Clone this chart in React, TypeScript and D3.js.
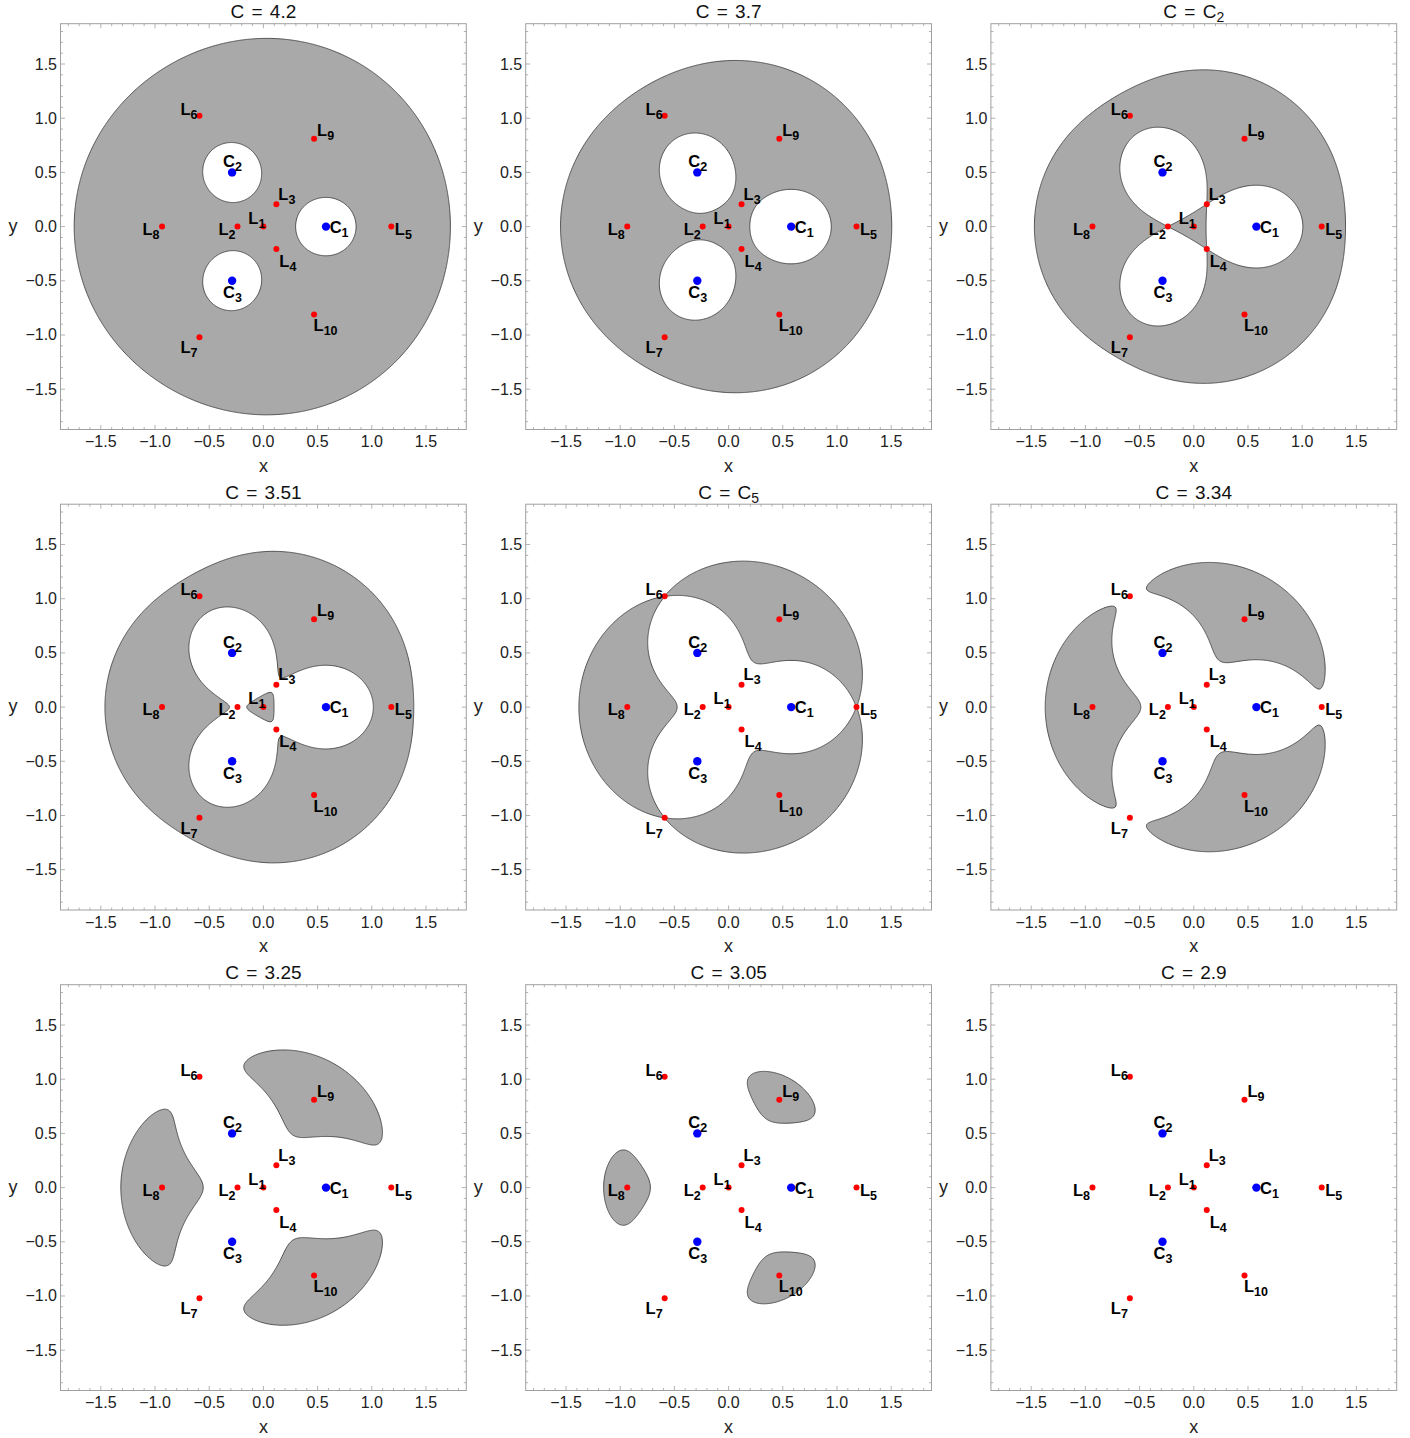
import React, { useMemo } from "react";
import * as d3 from "d3";

// Jacobi constant for each panel (C2 and C5 are the saddle values at L2 and L5)
const panelTitles = ["4.2", "3.7", "C_2", "3.51", "C_5", "3.34", "3.25", "3.05", "2.9"];
const jacobiValues = [4.2, 3.7, 3.5274, 3.51, 3.3582, 3.34, 3.25, 3.05, 2.9];

// three equal primaries on an equilateral triangle
const primaryNames = ["1", "2", "3"];
const primaryX = [0.57735, -0.288675, -0.288675];
const primaryY = [0, 0.5, -0.5];
const primaryMass = [1 / 3, 1 / 3, 1 / 3];

// equilibrium points
const lagrangeNames = ["1", "2", "3", "4", "5", "6", "7", "8", "9", "10"];
const lagrangeX = [0, -0.239, 0.1195, 0.1195, 1.18, -0.59, -0.59, -0.935, 0.4676, 0.4676];
const lagrangeY = [0, 0, 0.207, -0.207, 0, 1.0219, -1.0219, 0, 0.8099, -0.8099];

const majorTicks = [-1.5, -1, -0.5, 0, 0.5, 1, 1.5];
const minorTicks = d3.range(-18, 19).map((i) => i / 10);

// label placement (pixels relative to the point)
const labelPos: Record<string, { anchor: string; dx: number; dy: number }> = {
  L1: { anchor: "end", dx: 2, dy: -3 },
  L2: { anchor: "end", dx: -2, dy: 8 },
  L3: { anchor: "start", dx: 2, dy: -4.5 },
  L4: { anchor: "start", dx: 3, dy: 17.5 },
  L5: { anchor: "start", dx: 3.5, dy: 8 },
  L6: { anchor: "end", dx: -2, dy: -1 },
  L7: { anchor: "end", dx: -2, dy: 16 },
  L8: { anchor: "end", dx: -2.5, dy: 8 },
  L9: { anchor: "start", dx: 3, dy: -3 },
  L10: { anchor: "start", dx: -0.5, dy: 17 },
  C1: { anchor: "start", dx: 3.7, dy: 6.4 },
  C2: { anchor: "start", dx: -9, dy: -5 },
  C3: { anchor: "start", dx: -9, dy: 17.5 },
};

const W = 1410;
const H = 1438;
const SIZE = 405.8;
const LEFT0 = 60.5;
const TOP0 = 23.7;
const COL_STEP = 465.2;
const ROW_STEP = 480.5;
const LIM = 1.872;
const N = 400;
const FONT = "'Liberation Sans', Arial, Helvetica, sans-serif";

function twoOmega(x: number, y: number) {
  let s = x * x + y * y;
  for (let i = 0; i < primaryX.length; i++) {
    const r = Math.hypot(x - primaryX[i], y - primaryY[i]);
    s += (2 * primaryMass[i]) / Math.max(r, 1e-4);
  }
  return s;
}

const fmt = (v: number) => d3.format(".1f")(v).replace("-", "\u2212");

const Panel = ({ index }: { index: number }) => {
  const col = index % 3;
  const row = Math.floor(index / 3);
  const left = LEFT0 + col * COL_STEP;
  const top = TOP0 + row * ROW_STEP;

  const sx = d3.scaleLinear().domain([-LIM, LIM]).range([0, SIZE]);
  const sy = d3.scaleLinear().domain([-LIM, LIM]).range([SIZE, 0]);

  const pathD = useMemo(() => {
    const step = (2 * LIM) / N;
    const values = new Float64Array(N * N);
    for (let j = 0; j < N; j++) {
      const y = LIM - (j + 0.5) * step;
      for (let i = 0; i < N; i++) {
        const x = -LIM + (i + 0.5) * step;
        values[j * N + i] = Math.max(-twoOmega(x, y), -1000);
      }
    }
    const contour = d3.contours().size([N, N]).thresholds([-jacobiValues[index]])(Array.from(values))[0];
    const proj = d3.geoTransform({
      point(px: number, py: number) {
        // @ts-ignore
        this.stream.point(sx(-LIM + px * step), sy(LIM - py * step));
      },
    });
    return d3.geoPath(proj)(contour as any) || "";
  }, [index]);

  const title = panelTitles[index];
  const [tMain, tSub] = title.split("_");

  const tickLines: React.ReactNode[] = [];
  minorTicks.forEach((v, k) => {
    const major = majorTicks.some((m) => Math.abs(m - v) < 1e-9);
    const len = major ? 4.5 : 2.5;
    const px = sx(v);
    const py = sy(v);
    tickLines.push(
      <g key={k} stroke="#a0a0a0" strokeWidth={0.8}>
        <line x1={px} x2={px} y1={SIZE} y2={SIZE - len} />
        <line x1={px} x2={px} y1={0} y2={len} />
        <line x1={0} x2={len} y1={py} y2={py} />
        <line x1={SIZE} x2={SIZE - len} y1={py} y2={py} />
      </g>
    );
  });

  const label = (name: string, sub: string, x: number, y: number, key: string) => {
    const p = labelPos[name + sub];
    return (
      <text
        key={key}
        x={sx(x) + p.dx}
        y={sy(y) + p.dy}
        textAnchor={p.anchor as any}
        fontFamily={FONT}
        fontWeight="bold"
        fontSize={16.5}
        fill="#000"
      >
        {name}
        <tspan fontSize={12.5} dy={4}>
          {sub}
        </tspan>
      </text>
    );
  };

  return (
    <g transform={`translate(${left},${top})`}>
      <path d={pathD} fill="#a9a9a9" fillRule="evenodd" stroke="#444" strokeWidth={0.9} />
      <rect x={0} y={0} width={SIZE} height={SIZE} fill="none" stroke="#a0a0a0" strokeWidth={1} />
      {tickLines}
      {majorTicks.map((v) => (
        <text key={"x" + v} x={sx(v)} y={SIZE + 17.6} textAnchor="middle" fontFamily={FONT} fontSize={16} fill="#222">
          {fmt(v)}
        </text>
      ))}
      {majorTicks.map((v) => (
        <text key={"y" + v} x={-3.5} y={sy(v) + 5.5} textAnchor="end" fontFamily={FONT} fontSize={16} fill="#222">
          {fmt(v)}
        </text>
      ))}
      <text x={SIZE / 2} y={SIZE + 42.5} textAnchor="middle" fontFamily={FONT} fontSize={18} fill="#222">
        x
      </text>
      <text x={-47.5} y={SIZE / 2 + 5} textAnchor="middle" fontFamily={FONT} fontSize={18} fill="#222">
        y
      </text>
      <text
        x={SIZE / 2}
        y={-5.5}
        textAnchor="middle"
        fontFamily={FONT}
        fontSize={19}
        wordSpacing={2}
        fill="#111"
        style={{ whiteSpace: "pre" }}
      >
        {"C = " + tMain}
        {tSub && (
          <tspan fontSize={14} dy={4}>
            {tSub}
          </tspan>
        )}
      </text>
      {lagrangeX.map((x, i) => (
        <circle key={"lp" + i} cx={sx(x)} cy={sy(lagrangeY[i])} r={3} fill="#f00" />
      ))}
      {primaryX.map((x, i) => (
        <circle key={"pp" + i} cx={sx(x)} cy={sy(primaryY[i])} r={4.2} fill="#00f" />
      ))}
      {lagrangeX.map((x, i) => label("L", lagrangeNames[i], x, lagrangeY[i], "ll" + i))}
      {primaryX.map((x, i) => label("C", primaryNames[i], x, primaryY[i], "pl" + i))}
    </g>
  );
};

export default function App() {
  return (
    <svg width={W} height={H} style={{ position: "absolute", left: 0, top: 0, background: "#fff" }}>
      <rect width={W} height={H} fill="#fff" />
      {jacobiValues.map((_, i) => (
        <Panel key={i} index={i} />
      ))}
    </svg>
  );
}
